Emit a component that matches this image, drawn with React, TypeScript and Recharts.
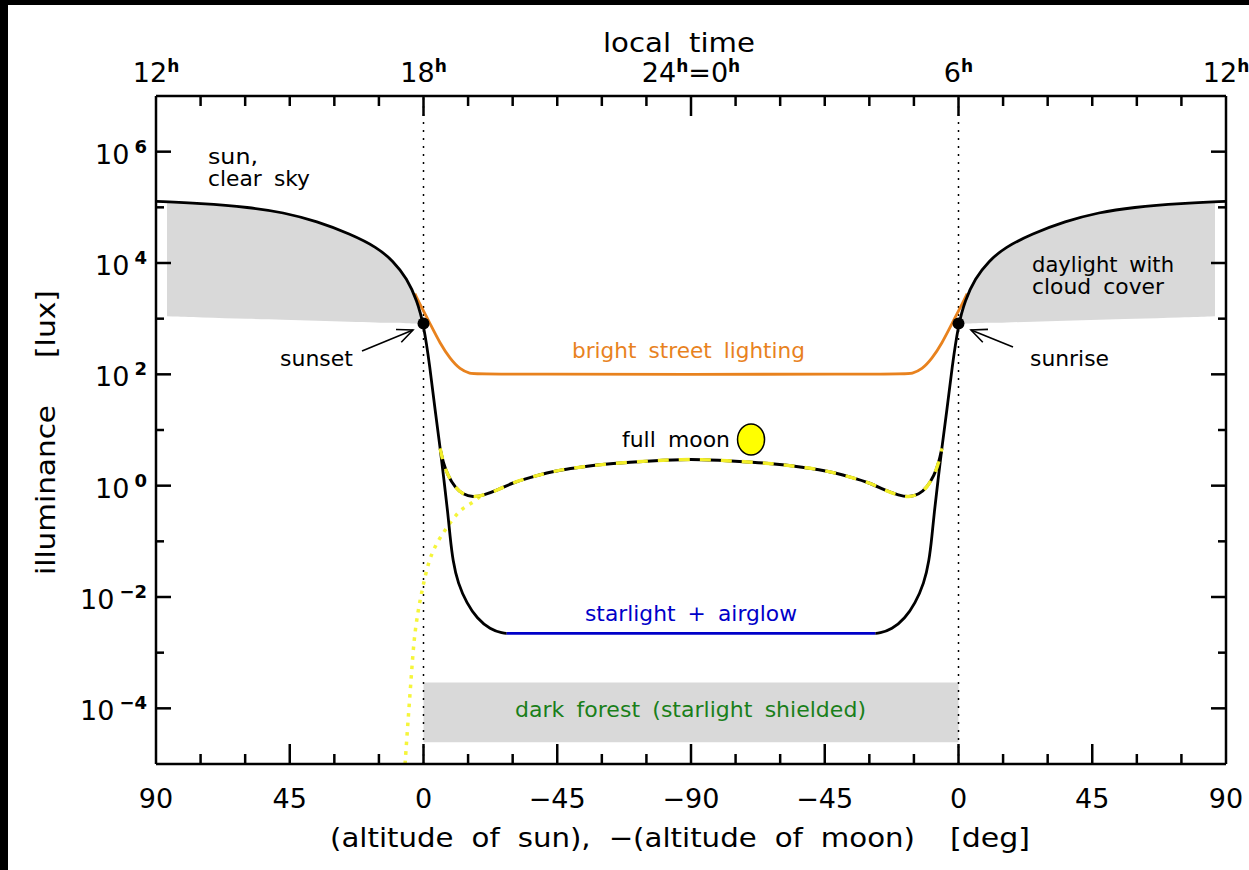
import {
  Area,
  ComposedChart,
  Line,
  ReferenceArea,
  ReferenceLine,
  Scatter,
  XAxis,
  YAxis,
} from 'recharts';

// x is the position along the axis in degrees, 0 = left edge (sun at 90), 180 = midnight, 360 = right edge
const sunLeft = [
  { pos: 0, lux: 128000 },
  { pos: 14.8, lux: 118000 },
  { pos: 31.6, lux: 100000 },
  { pos: 42.7, lux: 81300 },
  { pos: 54.2, lux: 56100 },
  { pos: 65.3, lux: 33300 },
  { pos: 74.4, lux: 19100 },
  { pos: 79.7, lux: 11000 },
  { pos: 84.5, lux: 5250 },
  { pos: 87.8, lux: 2110 },
  { pos: 90, lux: 817 },
  { pos: 92.2, lux: 132 },
  { pos: 93.9, lux: 22.4 },
  { pos: 95.6, lux: 4.85 },
  { pos: 96.9, lux: 1.24 },
  { pos: 98.2, lux: 0.317 },
  { pos: 98.9, lux: 0.128 },
  { pos: 99.9, lux: 0.0436 },
  { pos: 101.6, lux: 0.0175 },
  { pos: 104.6, lux: 0.00767 },
  { pos: 108, lux: 0.00413 },
  { pos: 112.4, lux: 0.00262 },
  { pos: 116.8, lux: 0.00222 },
  { pos: 118, lux: 0.00222 },
];

const sunRight = [
  { pos: 242, lux: 0.00222 },
  { pos: 243.2, lux: 0.00222 },
  { pos: 247.6, lux: 0.00262 },
  { pos: 252, lux: 0.00413 },
  { pos: 255.4, lux: 0.00767 },
  { pos: 258.4, lux: 0.0175 },
  { pos: 260.1, lux: 0.0436 },
  { pos: 261.1, lux: 0.128 },
  { pos: 261.8, lux: 0.317 },
  { pos: 263.1, lux: 1.24 },
  { pos: 264.4, lux: 4.85 },
  { pos: 266.1, lux: 22.4 },
  { pos: 267.8, lux: 132 },
  { pos: 270, lux: 817 },
  { pos: 272.2, lux: 2110 },
  { pos: 275.5, lux: 5250 },
  { pos: 280.3, lux: 11000 },
  { pos: 285.6, lux: 19100 },
  { pos: 294.7, lux: 33300 },
  { pos: 305.8, lux: 56100 },
  { pos: 317.3, lux: 81300 },
  { pos: 328.4, lux: 100000 },
  { pos: 345.2, lux: 118000 },
  { pos: 360, lux: 128000 },
];

const starlight = [
  { pos: 118, lux: 0.00222 },
  { pos: 242, lux: 0.00222 },
];

const streetLight = [
  { pos: 87.1, lux: 2820 },
  { pos: 88.2, lux: 2110 },
  { pos: 92.2, lux: 817 },
  { pos: 95.6, lux: 357 },
  { pos: 98.9, lux: 192 },
  { pos: 102.3, lux: 122 },
  { pos: 105.7, lux: 103 },
  { pos: 108, lux: 100 },
  { pos: 252, lux: 100 },
  { pos: 254.3, lux: 103 },
  { pos: 257.7, lux: 122 },
  { pos: 261.1, lux: 192 },
  { pos: 264.4, lux: 357 },
  { pos: 267.8, lux: 817 },
  { pos: 271.8, lux: 2110 },
  { pos: 272.9, lux: 2820 },
];

const fullMoon = [
  { pos: 95.6, lux: 4.66 },
  { pos: 96.6, lux: 2.61 },
  { pos: 98.2, lux: 1.52 },
  { pos: 100.6, lux: 0.93 },
  { pos: 103.3, lux: 0.695 },
  { pos: 106.7, lux: 0.62 },
  { pos: 110, lux: 0.667 },
  { pos: 114.7, lux: 0.82 },
  { pos: 120.1, lux: 1.14 },
  { pos: 125.8, lux: 1.4 },
  { pos: 131.6, lux: 1.7 },
  { pos: 136.9, lux: 1.95 },
  { pos: 142.7, lux: 2.15 },
  { pos: 148.4, lux: 2.35 },
  { pos: 153.8, lux: 2.51 },
  { pos: 159.5, lux: 2.64 },
  { pos: 165.2, lux: 2.76 },
  { pos: 170.6, lux: 2.86 },
  { pos: 176.3, lux: 2.95 },
  { pos: 183.7, lux: 2.95 },
  { pos: 189.4, lux: 2.86 },
  { pos: 194.8, lux: 2.76 },
  { pos: 200.5, lux: 2.64 },
  { pos: 206.2, lux: 2.51 },
  { pos: 211.6, lux: 2.35 },
  { pos: 217.3, lux: 2.15 },
  { pos: 223.1, lux: 1.95 },
  { pos: 228.4, lux: 1.7 },
  { pos: 234.2, lux: 1.4 },
  { pos: 239.9, lux: 1.14 },
  { pos: 245.3, lux: 0.82 },
  { pos: 250, lux: 0.667 },
  { pos: 253.3, lux: 0.62 },
  { pos: 256.7, lux: 0.695 },
  { pos: 259.4, lux: 0.93 },
  { pos: 261.8, lux: 1.52 },
  { pos: 263.4, lux: 2.61 },
  { pos: 264.4, lux: 4.66 },
];

const moonAlone = [
  { pos: 83.8, lux: 0.00001 },
  { pos: 84.8, lux: 0.000061 },
  { pos: 85.8, lux: 0.000318 },
  { pos: 86.8, lux: 0.00181 },
  { pos: 88.2, lux: 0.00575 },
  { pos: 89.5, lux: 0.0131 },
  { pos: 91.5, lux: 0.0401 },
  { pos: 93.9, lux: 0.0843 },
  { pos: 97.6, lux: 0.171 },
  { pos: 101.3, lux: 0.317 },
  { pos: 103.6, lux: 0.406 },
  { pos: 106.7, lux: 0.5 },
  { pos: 109, lux: 0.64 },
];

const cloudLeft = [
  { pos: 3.7, range: [1100, 126000] },
  { pos: 14.8, range: [1050, 118000] },
  { pos: 31.6, range: [991, 100000] },
  { pos: 42.7, range: [955, 81300] },
  { pos: 54.2, range: [916, 56100] },
  { pos: 65.3, range: [883, 33300] },
  { pos: 74.4, range: [855, 19100] },
  { pos: 79.7, range: [841, 11000] },
  { pos: 84.5, range: [826, 5250] },
  { pos: 87.8, range: [817, 2110] },
  { pos: 90, range: [817, 817] },
];

const cloudRight = [
  { pos: 270, range: [817, 817] },
  { pos: 272.2, range: [817, 2110] },
  { pos: 275.5, range: [826, 5250] },
  { pos: 280.3, range: [841, 11000] },
  { pos: 285.6, range: [855, 19100] },
  { pos: 294.7, range: [883, 33300] },
  { pos: 305.8, range: [916, 56100] },
  { pos: 317.3, range: [955, 81300] },
  { pos: 328.4, range: [991, 100000] },
  { pos: 345.2, range: [1050, 118000] },
  { pos: 356.3, range: [1100, 126000] },
];

const horizonDots = [
  { pos: 90, lux: 817 },
  { pos: 270, lux: 817 },
];
const moonMarker = [{ pos: 200.2, lux: 6.76 }];

const xTicks = [0, 15, 30, 45, 60, 75, 90, 105, 120, 135, 150, 165, 180, 195, 210, 225, 240, 255, 270, 285, 300, 315, 330, 345, 360];
const yTicks = [1e-4, 1e-3, 1e-2, 1e-1, 1, 10, 100, 1000, 1e4, 1e5, 1e6];
const altitudeLabels: Record<number, string> = {
  0: '90', 45: '45', 90: '0', 135: '\u221245', 180: '\u221290', 225: '\u221245', 270: '0', 315: '45', 360: '90',
};
const hourLabels: Record<number, [string, string?]> = {
  0: ['12'], 90: ['18'], 180: ['24', '0'], 270: ['6'], 360: ['12'],
};

const FONT = '"DejaVu Sans", sans-serif';
const ORANGE = '#e8821e';
const BLUE = '#0000c8';
const GREEN = '#1a7f1a';
const GREY = '#d9d9d9';
const YELLOW = '#f2ee2a';
const AXIS_LINE = { stroke: '#000', strokeWidth: 2.5 };

function BottomTick({ x, y, payload }: any) {
  const label = altitudeLabels[payload.value];
  const major = payload.value % 45 === 0;
  return (
    <g>
      {payload.value > 0 && payload.value < 360 && (
        <line x1={x} x2={x} y1={y} y2={y - (major ? 20 : 10)} stroke="#000" strokeWidth={2.5} />
      )}
      {label && (
        <text x={x} y={y + 44} textAnchor="middle" fontFamily={FONT} fontSize={27} fill="#000">
          {label}
        </text>
      )}
    </g>
  );
}

function TopTick({ x, y, payload }: any) {
  const label = hourLabels[payload.value];
  const major = payload.value % 90 === 0;
  return (
    <g>
      {payload.value > 0 && payload.value < 360 && (
        <line x1={x} x2={x} y1={y} y2={y + (major ? 20 : 10)} stroke="#000" strokeWidth={2.5} />
      )}
      {label && (
        <text x={x} y={y - 14} textAnchor="middle" fontFamily={FONT} fontSize={27} fill="#000">
          <tspan>{label[0]}</tspan>
          <tspan dy={-10} fontSize={17} fontWeight="bold">h</tspan>
          {label[1] && <tspan dy={10}>={label[1]}</tspan>}
          {label[1] && <tspan dy={-10} fontSize={17} fontWeight="bold">h</tspan>}
        </text>
      )}
    </g>
  );
}

function LeftTick({ x, y, payload }: any) {
  const exp = Math.round(Math.log10(payload.value));
  const major = exp % 2 === 0;
  return (
    <g>
      <line x1={x} x2={x + (major ? 15 : 8)} y1={y} y2={y} stroke="#000" strokeWidth={2.5} />
      {major && (
        <text x={x - 9} y={y + 12} textAnchor="end" fontFamily={FONT} fontSize={27} fill="#000">
          <tspan>10</tspan>
          <tspan dy={-11} dx={5} fontSize={18} fontWeight="bold">
            {exp < 0 ? `\u2212${-exp}` : exp}
          </tspan>
        </text>
      )}
    </g>
  );
}

function RightTick({ x, y, payload }: any) {
  const exp = Math.round(Math.log10(payload.value));
  return <line x1={x} x2={x - (exp % 2 === 0 ? 15 : 8)} y1={y} y2={y} stroke="#000" strokeWidth={2.5} />;
}

function Note({ x, y, width, color = '#000', size = 21, children }: any) {
  return (
    <text
      x={x}
      y={y}
      fontFamily={FONT}
      fontSize={size}
      fill={color}
      wordSpacing={size > 24 ? 8 : 5}
      textLength={width}
      lengthAdjust="spacingAndGlyphs"
    >
      {children}
    </text>
  );
}

function Arrow({ from, to }: { from: [number, number]; to: [number, number] }) {
  const a = Math.atan2(to[1] - from[1], to[0] - from[0]);
  const head = (d: number) => `${to[0] - 17 * Math.cos(a + d)},${to[1] - 17 * Math.sin(a + d)}`;
  return (
    <g fill="none" stroke="#000" strokeWidth={1.6}>
      <line x1={from[0]} y1={from[1]} x2={to[0]} y2={to[1]} />
      <polyline points={`${head(0.42)} ${to[0]},${to[1]} ${head(-0.42)}`} />
    </g>
  );
}

export default function App() {
  return (
    <div style={{ position: 'fixed', inset: 0, background: '#fff', overflow: 'hidden' }}>
      <div style={{ position: 'absolute', left: 0, top: 0 }}>
        <ComposedChart width={1249} height={870} margin={{ top: 95, right: 22, bottom: 105, left: 155 }}>
          <XAxis
            xAxisId="bottom"
            orientation="bottom"
            type="number"
            dataKey="pos"
            domain={[0, 360]}
            ticks={xTicks}
            interval={0}
            height={1}
            tickSize={0}
            tickMargin={0}
            allowDataOverflow
            axisLine={AXIS_LINE}
            tickLine={false}
            tick={BottomTick}
          />
          <XAxis
            xAxisId="top"
            orientation="top"
            type="number"
            dataKey="pos"
            domain={[0, 360]}
            ticks={xTicks}
            interval={0}
            height={1}
            tickSize={0}
            tickMargin={0}
            allowDataOverflow
            axisLine={AXIS_LINE}
            tickLine={false}
            tick={TopTick}
          />
          <YAxis
            yAxisId="left"
            orientation="left"
            type="number"
            dataKey="lux"
            scale="log"
            domain={[1e-5, 1e7]}
            ticks={yTicks}
            interval={0}
            width={1}
            tickSize={0}
            tickMargin={0}
            allowDataOverflow
            axisLine={AXIS_LINE}
            tickLine={false}
            tick={LeftTick}
          />
          <YAxis
            yAxisId="right"
            orientation="right"
            type="number"
            scale="log"
            domain={[1e-5, 1e7]}
            ticks={yTicks}
            interval={0}
            width={1}
            tickSize={0}
            tickMargin={0}
            allowDataOverflow
            axisLine={AXIS_LINE}
            tickLine={false}
            tick={RightTick}
          />

          <Area data={cloudLeft} xAxisId="bottom" yAxisId="left" dataKey="range" type="basis" fill={GREY} fillOpacity={1} stroke="none" isAnimationActive={false} dot={false} activeDot={false} />
          <Area data={cloudRight} xAxisId="bottom" yAxisId="left" dataKey="range" type="basis" fill={GREY} fillOpacity={1} stroke="none" isAnimationActive={false} dot={false} activeDot={false} />
          <ReferenceArea xAxisId="bottom" yAxisId="left" x1={90} x2={270} y1={2.45e-5} y2={2.9e-4} fill={GREY} fillOpacity={1} stroke="none" />
          <ReferenceLine xAxisId="bottom" yAxisId="left" x={90} stroke="#000" strokeWidth={1.5} strokeDasharray="2 6" />
          <ReferenceLine xAxisId="bottom" yAxisId="left" x={270} stroke="#000" strokeWidth={1.5} strokeDasharray="2 6" />

          <Line data={moonAlone} xAxisId="bottom" yAxisId="left" dataKey="lux" type="basis" stroke="#f5f53a" strokeWidth={3.5} strokeDasharray="3.5 6" dot={false} activeDot={false} isAnimationActive={false} />
          <Line data={streetLight} xAxisId="bottom" yAxisId="left" dataKey="lux" type="basis" stroke={ORANGE} strokeWidth={2.8} dot={false} activeDot={false} isAnimationActive={false} />
          <Line data={sunLeft} xAxisId="bottom" yAxisId="left" dataKey="lux" type="basis" stroke="#000" strokeWidth={2.8} dot={false} activeDot={false} isAnimationActive={false} />
          <Line data={sunRight} xAxisId="bottom" yAxisId="left" dataKey="lux" type="basis" stroke="#000" strokeWidth={2.8} dot={false} activeDot={false} isAnimationActive={false} />
          {/* starlight is tied to the top axis so that axis has a series and gets its ticks */}
          <Line data={starlight} xAxisId="top" yAxisId="left" dataKey="lux" type="linear" stroke={BLUE} strokeWidth={2.8} dot={false} activeDot={false} isAnimationActive={false} />
          <Line data={fullMoon} xAxisId="bottom" yAxisId="left" dataKey="lux" type="basis" stroke="#000" strokeWidth={3} dot={false} activeDot={false} isAnimationActive={false} />
          <Line data={fullMoon} xAxisId="bottom" yAxisId="left" dataKey="lux" type="basis" stroke={YELLOW} strokeWidth={3.4} strokeDasharray="11 10" dot={false} activeDot={false} isAnimationActive={false} />

          <Scatter data={horizonDots} xAxisId="bottom" yAxisId="left" fill="#000" isAnimationActive={false} shape={(p: any) => <circle cx={p.cx} cy={p.cy} r={6} fill="#000" />} />
          <Scatter data={moonMarker} xAxisId="bottom" yAxisId="left" isAnimationActive={false} shape={(p: any) => <ellipse cx={p.cx} cy={p.cy} rx={13.5} ry={15.5} fill="#ffff00" stroke="#000" strokeWidth={1.5} />} />
        </ComposedChart>
      </div>

      {/* annotations sit on top of the chart so the grey band doesn't hide them */}
      <svg width={1249} height={870} style={{ position: 'absolute', left: 0, top: 0 }}>
        <Arrow from={[362, 351]} to={[413, 330]} />
        <Arrow from={[1013, 347]} to={[971, 330]} />
        <Note x={603} y={52} width={152} size={27}>local time</Note>
        <Note x={208} y={164} width={50}>sun,</Note>
        <Note x={208} y={186} width={102}>clear sky</Note>
        <Note x={1032} y={272} width={142}>daylight with</Note>
        <Note x={1032} y={294} width={132}>cloud cover</Note>
        <Note x={280} y={366} width={73}>sunset</Note>
        <Note x={1030} y={366} width={79}>sunrise</Note>
        <Note x={572} y={358} width={233} color={ORANGE}>bright street lighting</Note>
        <Note x={622} y={447} width={108}>full moon</Note>
        <Note x={585} y={621} width={212} color={BLUE}>starlight + airglow</Note>
        <Note x={515} y={717} width={351} color={GREEN}>dark forest (starlight shielded)</Note>
        <Note x={330} y={847} width={585} size={27}>(altitude of sun), {'\u2212'}(altitude of moon)</Note>
        <Note x={950} y={847} width={80} size={27}>[deg]</Note>
        <text transform="translate(55,575) rotate(-90)" fontFamily={FONT} fontSize={27} fill="#000" textLength={170} lengthAdjust="spacingAndGlyphs">illuminance</text>
        <text transform="translate(55,358) rotate(-90)" fontFamily={FONT} fontSize={27} fill="#000" textLength={68} lengthAdjust="spacingAndGlyphs">[lux]</text>
      </svg>

      <div style={{ position: 'absolute', left: 0, top: 0, bottom: 0, width: 8, background: '#000' }} />
      <div style={{ position: 'absolute', left: 0, right: 0, top: 0, height: 5, background: '#000' }} />
    </div>
  );
}
